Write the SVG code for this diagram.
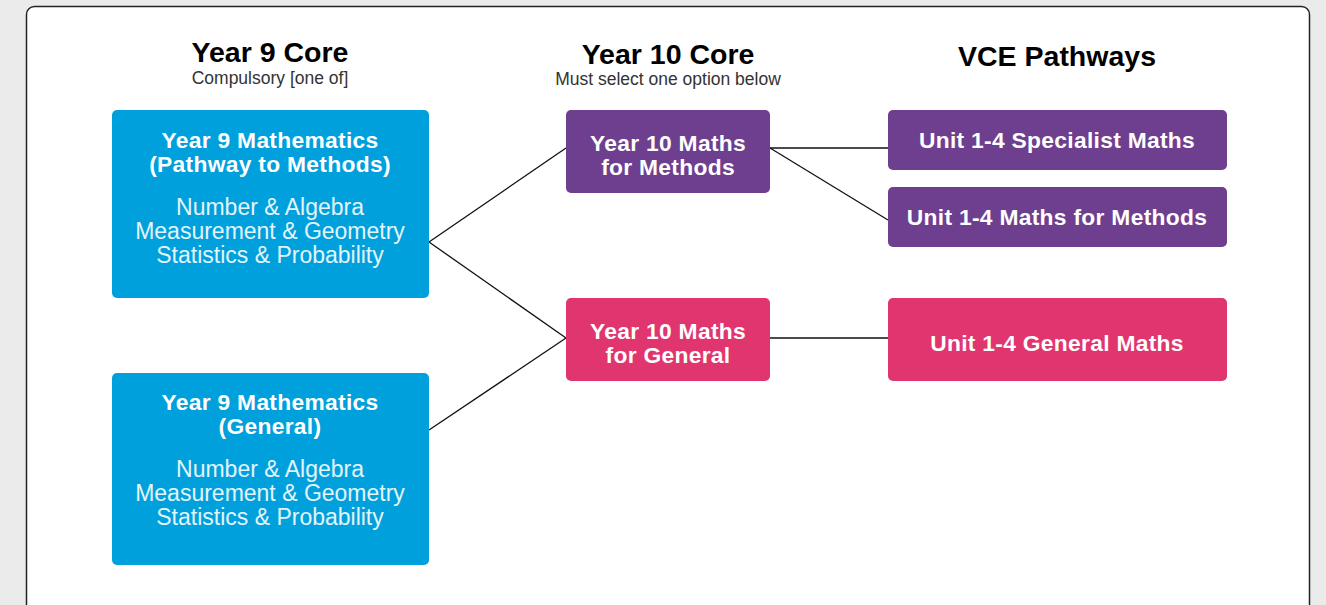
<svg xmlns="http://www.w3.org/2000/svg" width="1326" height="605" viewBox="0 0 1326 605">
<style>
.h{font-family:"Liberation Sans",Arial,sans-serif;font-weight:bold;font-size:28.5px;fill:#000;text-anchor:middle}
.s{font-family:"Liberation Sans",Arial,sans-serif;font-size:17.5px;fill:#333;text-anchor:middle}
.t{font-family:"Liberation Sans",Arial,sans-serif;font-weight:bold;font-size:22.8px;letter-spacing:0.3px;fill:#fff;text-anchor:middle}
.r{font-family:"Liberation Sans",Arial,sans-serif;font-size:23px;fill:#e3f4fb;text-anchor:middle}
.blue{fill:#00a0dc}
.purple{fill:#6e3f8e}
.pink{fill:#e0356e}
.c{stroke:#111;stroke-width:1.3;fill:none}
</style>
<rect x="0" y="0" width="1326" height="605" fill="#ebebeb"/>
<rect x="26.5" y="6.5" width="1283" height="640" rx="8" fill="#fff" stroke="#222" stroke-width="1.5"/>
<text class="h" x="270" y="62">Year 9 Core</text>
<text class="s" x="270" y="84">Compulsory [one of]</text>
<text class="h" x="668" y="64">Year 10 Core</text>
<text class="s" x="668" y="85">Must select one option below</text>
<text class="h" x="1057" y="66">VCE Pathways</text>
<g id="connectors">
<line class="c" x1="429" y1="242" x2="566" y2="148"/>
<line class="c" x1="429" y1="242" x2="566" y2="338"/>
<line class="c" x1="429" y1="430" x2="566" y2="338"/>
<line class="c" x1="770" y1="148" x2="888" y2="148"/>
<line class="c" x1="770" y1="148" x2="888" y2="220"/>
<line class="c" x1="770" y1="338" x2="888" y2="338"/>
</g>
<g id="y9methods">
<rect class="blue" x="112" y="110" width="317" height="188" rx="5"/>
<text class="t" x="270" y="148">Year 9 Mathematics</text>
<text class="t" x="270" y="172">(Pathway to Methods)</text>
<text class="r" x="270" y="215">Number &amp; Algebra</text>
<text class="r" x="270" y="239">Measurement &amp; Geometry</text>
<text class="r" x="270" y="263">Statistics &amp; Probability</text>
</g>
<g id="y9general">
<rect class="blue" x="112" y="373" width="317" height="192" rx="5"/>
<text class="t" x="270" y="410">Year 9 Mathematics</text>
<text class="t" x="270" y="434">(General)</text>
<text class="r" x="270" y="477">Number &amp; Algebra</text>
<text class="r" x="270" y="501">Measurement &amp; Geometry</text>
<text class="r" x="270" y="525">Statistics &amp; Probability</text>
</g>
<g id="y10methods">
<rect class="purple" x="566" y="110" width="204" height="83" rx="5"/>
<text class="t" x="668" y="151">Year 10 Maths</text>
<text class="t" x="668" y="175">for Methods</text>
</g>
<g id="y10general">
<rect class="pink" x="566" y="298" width="204" height="83" rx="5"/>
<text class="t" x="668" y="339">Year 10 Maths</text>
<text class="t" x="668" y="363">for General</text>
</g>
<g id="specialist">
<rect class="purple" x="888" y="110" width="339" height="60" rx="5"/>
<text class="t" x="1057" y="148">Unit 1-4 Specialist Maths</text>
</g>
<g id="methods">
<rect class="purple" x="888" y="187" width="339" height="60" rx="5"/>
<text class="t" x="1057" y="225">Unit 1-4 Maths for Methods</text>
</g>
<g id="general">
<rect class="pink" x="888" y="298" width="339" height="83" rx="5"/>
<text class="t" x="1057" y="351">Unit 1-4 General Maths</text>
</g>
</svg>
